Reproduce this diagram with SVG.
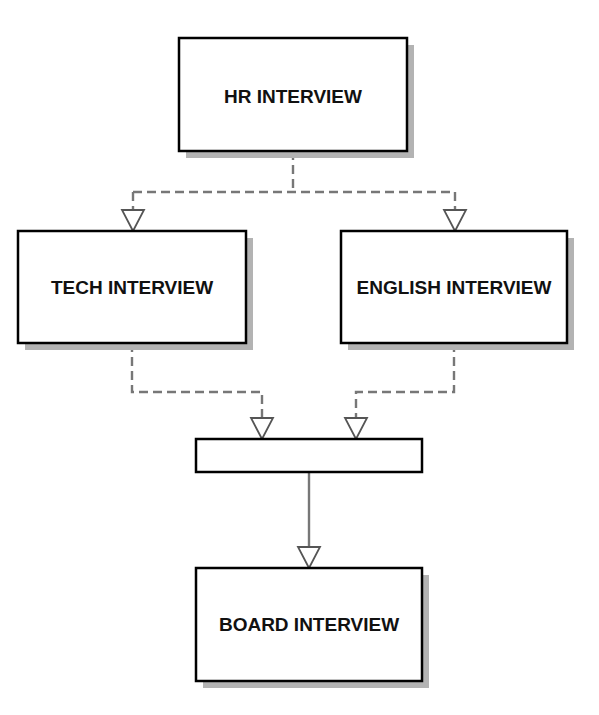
<svg xmlns="http://www.w3.org/2000/svg" width="599" height="715" viewBox="0 0 599 715">
<defs>
<style>
.box{fill:#fff;stroke:#000;stroke-width:2.5}
.sh{fill:#b3b3b3}
.lbl{font-family:"Liberation Sans",Arial,sans-serif;font-weight:bold;font-size:19px;fill:#111;text-anchor:middle;dominant-baseline:central}
.dash{fill:none;stroke:#777;stroke-width:2.4;stroke-dasharray:9,5}
.solid{fill:none;stroke:#777;stroke-width:2.4}
.tri{fill:#fff;stroke:#555;stroke-width:1.8}
</style>
</defs>
<rect width="599" height="715" fill="#fff"/>
<g id="connectors">
<path class="dash" d="M293,151 V192 M133,192 H455 M133,192 V210 M455,192 V210"/>
<path class="dash" d="M132,343 V392 H262 V418"/>
<path class="dash" d="M454,343 V392 H356 V418"/>
<path class="solid" d="M309,472 V547"/>
<polygon class="tri" points="122,210 144,210 133,231"/>
<polygon class="tri" points="444,210 466,210 455,231"/>
<polygon class="tri" points="251,418 273,418 262,439"/>
<polygon class="tri" points="345,418 367,418 356,439"/>
<polygon class="tri" points="298,547 320,547 309,568"/>
</g>
<g id="hr">
<rect class="sh" x="186" y="45" width="228" height="113"/>
<rect class="box" x="179" y="38" width="228" height="113"/>
<text class="lbl" x="293" y="96">HR INTERVIEW</text>
</g>
<g id="tech">
<rect class="sh" x="25" y="238" width="228" height="112"/>
<rect class="box" x="18" y="231" width="228" height="112"/>
<text class="lbl" x="132" y="287">TECH INTERVIEW</text>
</g>
<g id="english">
<rect class="sh" x="348" y="238" width="226" height="112"/>
<rect class="box" x="341" y="231" width="226" height="112"/>
<text class="lbl" x="454" y="287">ENGLISH INTERVIEW</text>
</g>
<g id="join">
<rect class="box" x="196" y="439" width="226" height="33"/>
</g>
<g id="board">
<rect class="sh" x="203" y="575" width="226" height="113"/>
<rect class="box" x="196" y="568" width="226" height="113"/>
<text class="lbl" x="309" y="624">BOARD INTERVIEW</text>
</g>
</svg>
